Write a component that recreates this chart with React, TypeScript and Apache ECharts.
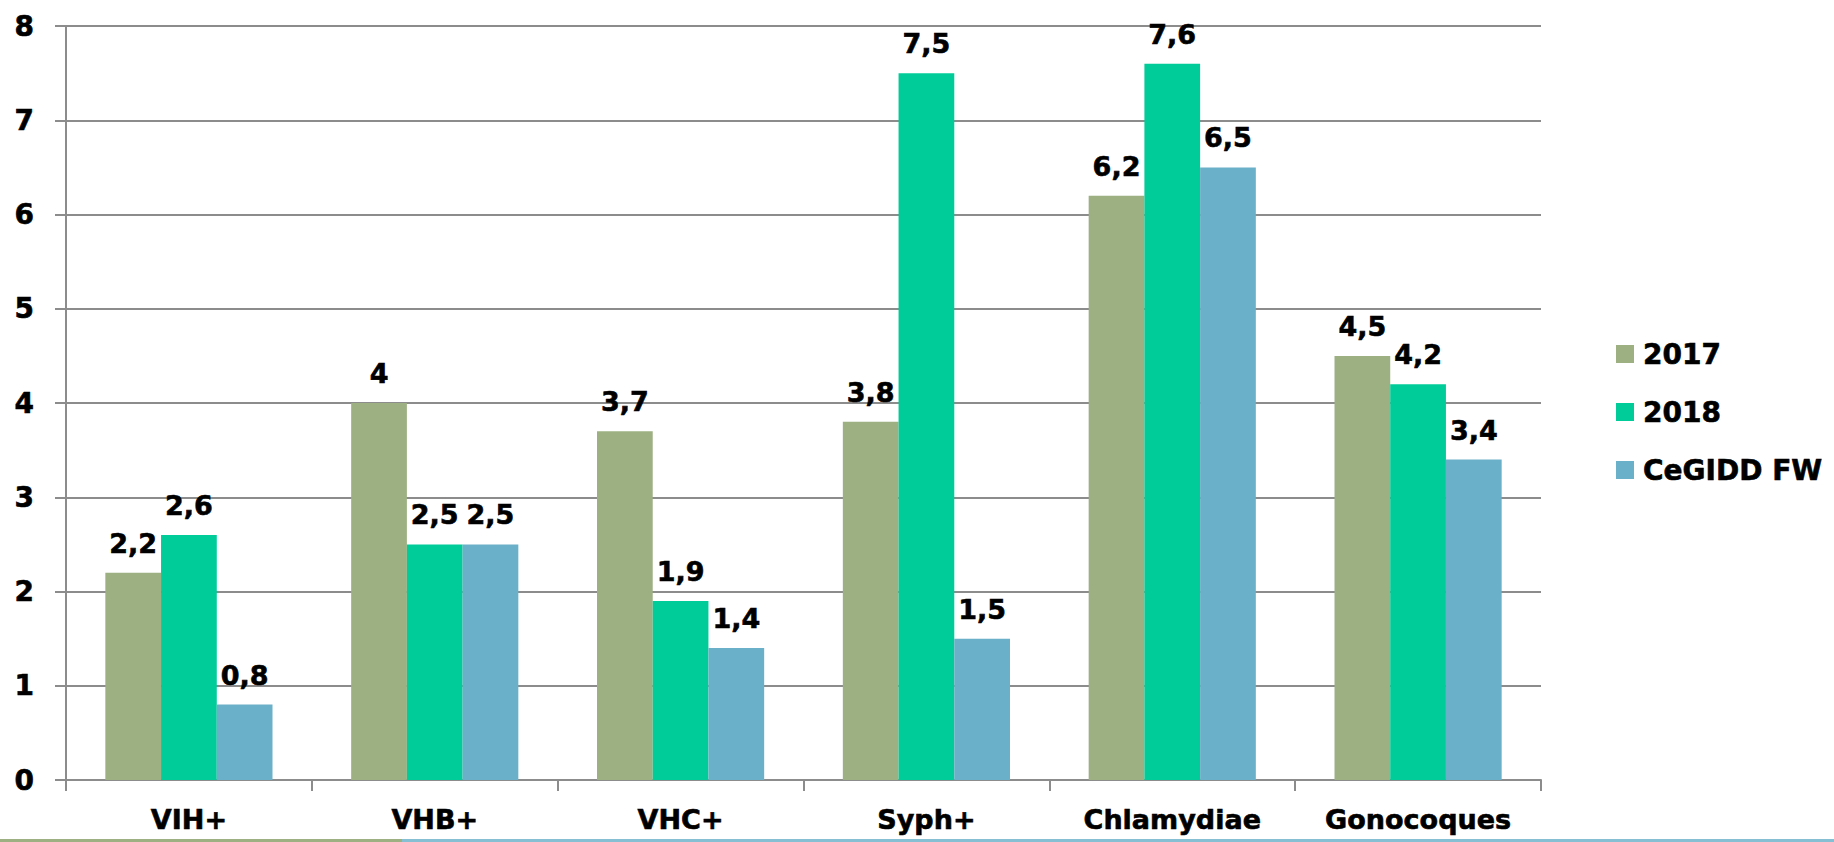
import React, { useEffect, useRef } from "react";
import * as echarts from "echarts";

const categories = ["VIH+", "VHB+", "VHC+", "Syph+", "Chlamydiae", "Gonocoques"];
const seriesNames = ["2017", "2018", "CeGIDD FW"];
const values2017 = [2.2, 4, 3.7, 3.8, 6.2, 4.5];
const values2018 = [2.6, 2.5, 1.9, 7.5, 7.6, 4.2];
const valuesCeGIDD = [0.8, 2.5, 1.4, 1.5, 6.5, 3.4];
const colors = ["#9DB082", "#00CC99", "#6AB0C8"];

const FONT = "'DejaVu Sans', Verdana, sans-serif";

export default function App() {
  const ref = useRef<HTMLDivElement>(null);
  useEffect(() => {
    if (!ref.current) return;
    const chart = echarts.init(ref.current, undefined, { renderer: "svg" });
    const allValues = [values2017, values2018, valuesCeGIDD];
    const heavy = { textBorderColor: "#000", textBorderWidth: 0.6 };
    chart.setOption({
      animation: false,
      backgroundColor: "#ffffff",
      textStyle: { fontFamily: FONT },
      grid: { left: 66, right: 293, top: 26, bottom: 62, containLabel: false },
      legend: {
        orient: "vertical",
        left: 1611,
        top: 334,
        itemWidth: 18,
        itemHeight: 18,
        itemGap: 28,
        icon: "rect",
        data: seriesNames,
        textStyle: {
          fontFamily: FONT,
          fontWeight: "bold",
          fontSize: 28,
          color: "#000",
          lineHeight: 30,
          padding: [0, 0, 0, 4],
          ...heavy,
        },
      },
      xAxis: {
        type: "category",
        data: categories,
        axisLine: { show: true, lineStyle: { color: "#8c8c8c", width: 2 } },
        axisTick: { show: true, length: 11, alignWithLabel: false, lineStyle: { color: "#8c8c8c", width: 2 } },
        axisLabel: {
          margin: 26,
          fontFamily: FONT,
          fontWeight: "bold",
          fontSize: 27,
          color: "#000",
          ...heavy,
        },
      },
      yAxis: {
        type: "value",
        min: 0,
        max: 8,
        interval: 1,
        axisLine: { show: true, lineStyle: { color: "#8c8c8c", width: 2 } },
        axisTick: { show: true, length: 11, lineStyle: { color: "#8c8c8c", width: 2 } },
        splitLine: { show: true, lineStyle: { color: "#8c8c8c", width: 2 } },
        axisLabel: {
          margin: 32,
          fontFamily: FONT,
          fontWeight: "bold",
          fontSize: 28,
          color: "#000",
          ...heavy,
        },
      },
      series: seriesNames.map((name, i) => ({
        name,
        type: "bar",
        data: allValues[i],
        barGap: "0%",
        barCategoryGap: "32%",
        itemStyle: { color: colors[i] },
        label: {
          show: true,
          position: "top",
          distance: 16,
          fontFamily: FONT,
          fontWeight: "bold",
          fontSize: 27,
          color: "#000",
          ...heavy,
          formatter: (p: any) => String(p.value).replace(".", ","),
        },
      })),
      graphic: [
        { type: "rect", left: 0, top: 839, shape: { width: 402, height: 3 }, style: { fill: "#9DB082" } },
        { type: "rect", left: 402, top: 839, shape: { width: 1432, height: 3 }, style: { fill: "#86BFD3" } },
      ],
    });
    return () => chart.dispose();
  }, []);
  return (
    <div
      ref={ref}
      style={{ position: "fixed", left: 0, top: 0, width: 1834, height: 842 }}
    />
  );
}
